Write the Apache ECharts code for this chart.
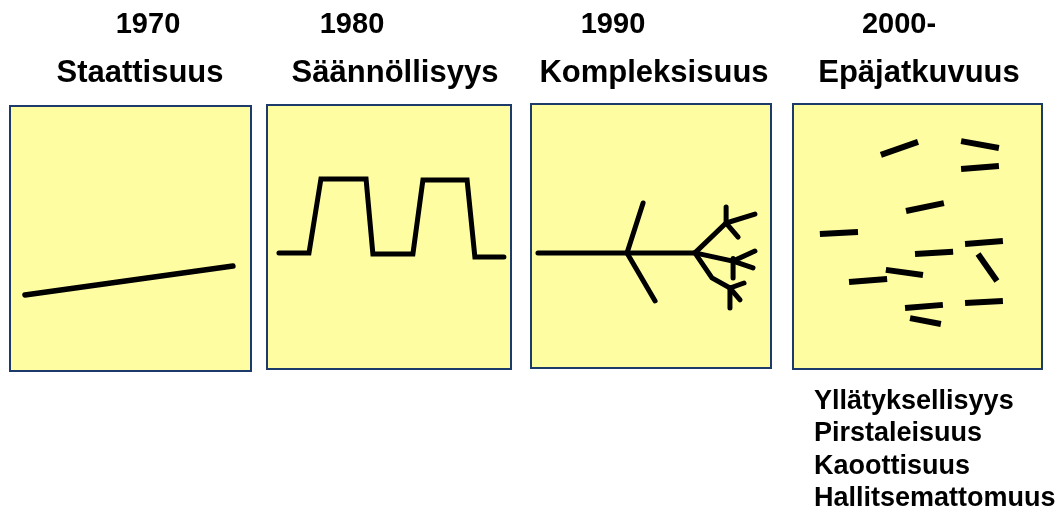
<!DOCTYPE html>
<html><head><meta charset="utf-8">
<script src="https://cdn.jsdelivr.net/npm/echarts@6/dist/echarts.min.js"></script>
<style>html,body{margin:0;padding:0;background:#fff}#c{width:1059px;height:513px}</style>
</head><body><div id="c"></div>
<script>
// Panel titles
const years = ['1970', '1980', '1990', '2000-'];
const names = ['Staattisuus', 'Säännöllisyys', 'Kompleksisuus', 'Epäjatkuvuus'];
const notes = ['Yllätyksellisyys', 'Pirstaleisuus', 'Kaoottisuus', 'Hallitsemattomuus'];

// Panel drawings, in panel units (0-100 both ways, y upward)
const staticLine = [[[6.2, 28.7], [92.5, 39.6]]];
const regularLine = [[[4.9, 43.9], [17.2, 43.9], [22.1, 72.0], [40.6, 72.0], [43.4, 43.6], [59.8, 43.6], [63.9, 71.6], [82.0, 71.6], [85.2, 42.4], [97.1, 42.4]]];
const complexTree = [
  [[2.9, 43.6], [68.3, 43.6]],
  [[40.0, 43.6], [46.7, 62.5]],
  [[40.0, 43.6], [51.7, 25.4]],
  [[68.3, 43.6], [81.3, 54.9], [93.3, 58.3]],
  [[81.3, 54.9], [86.3, 49.6]],
  [[81.3, 54.9], [81.3, 61.0]],
  [[68.3, 43.6], [84.2, 40.5], [93.3, 44.3]],
  [[84.2, 40.5], [92.5, 37.9]],
  [[84.2, 41.5], [84.2, 34.1]],
  [[68.3, 43.6], [75.4, 34.1], [82.9, 30.3], [88.75, 32.2]],
  [[82.9, 30.3], [87.1, 25.8]],
  [[82.9, 30.3], [82.9, 22.7]]
];
const fragments = [
  [[35.3, 80.8], [50.2, 85.7]],
  [[67.5, 86.0], [82.7, 83.4]],
  [[67.5, 75.5], [82.7, 76.6]],
  [[45.4, 59.6], [60.6, 62.6]],
  [[10.8, 50.9], [26.1, 51.7]],
  [[69.1, 47.2], [84.3, 48.3]],
  [[49.0, 43.4], [64.3, 44.2]],
  [[74.3, 43.4], [81.9, 33.2]],
  [[37.3, 37.4], [52.2, 35.5]],
  [[22.5, 32.8], [37.8, 34.0]],
  [[45.0, 23.0], [60.2, 24.2]],
  [[69.1, 24.9], [84.3, 25.7]],
  [[47.0, 19.2], [59.4, 17.0]]
];
const drawings = [staticLine, regularLine, complexTree, fragments];

// Layout
const panels = [
  {left: 10, top: 106, width: 241, height: 265},
  {left: 267, top: 105, width: 244, height: 264},
  {left: 531, top: 104, width: 240, height: 264},
  {left: 793, top: 104, width: 249, height: 265}
];
const lineWidths = [5.5, 5, 5, 6];
const yearX = [148, 352, 613, 899];
const nameX = [140, 395, 654, 919];
const FONT = '"Liberation Sans", Arial, sans-serif';

const grid = [], xAxis = [], yAxis = [], series = [];
panels.forEach((p, i) => {
  grid.push(Object.assign({show: true, backgroundColor: '#FFFDA2', borderColor: '#1C3B6A', borderWidth: 2}, p));
  xAxis.push({type: 'value', gridIndex: i, min: 0, max: 100, show: false});
  yAxis.push({type: 'value', gridIndex: i, min: 0, max: 100, show: false});
  drawings[i].forEach(seg => {
    series.push({
      type: 'line', xAxisIndex: i, yAxisIndex: i, data: seg, symbol: 'none', silent: true,
      animation: false,
      lineStyle: {color: '#000', width: lineWidths[i], cap: i === 3 ? 'butt' : 'round', join: 'miter'}
    });
  });
});

const graphic = [];
years.forEach((t, i) => graphic.push({type: 'text', x: yearX[i], y: 25,
  style: {text: t, font: 'bold 29px ' + FONT, fill: '#000', textAlign: 'center', textVerticalAlign: 'middle'}}));
names.forEach((t, i) => graphic.push({type: 'text', x: nameX[i], y: 73,
  style: {text: t, font: 'bold 31px ' + FONT, fill: '#000', textAlign: 'center', textVerticalAlign: 'middle'}}));
const noteY = [402, 434, 467, 499];
notes.forEach((t, i) => graphic.push({type: 'text', x: 814, y: noteY[i],
  style: {text: t, font: 'bold 27px ' + FONT, fill: '#000', textAlign: 'left', textVerticalAlign: 'middle'}}));

const chart = echarts.init(document.getElementById('c'), null, {renderer: 'canvas'});
chart.setOption({animation: false, grid, xAxis, yAxis, series, graphic});
</script></body></html>
